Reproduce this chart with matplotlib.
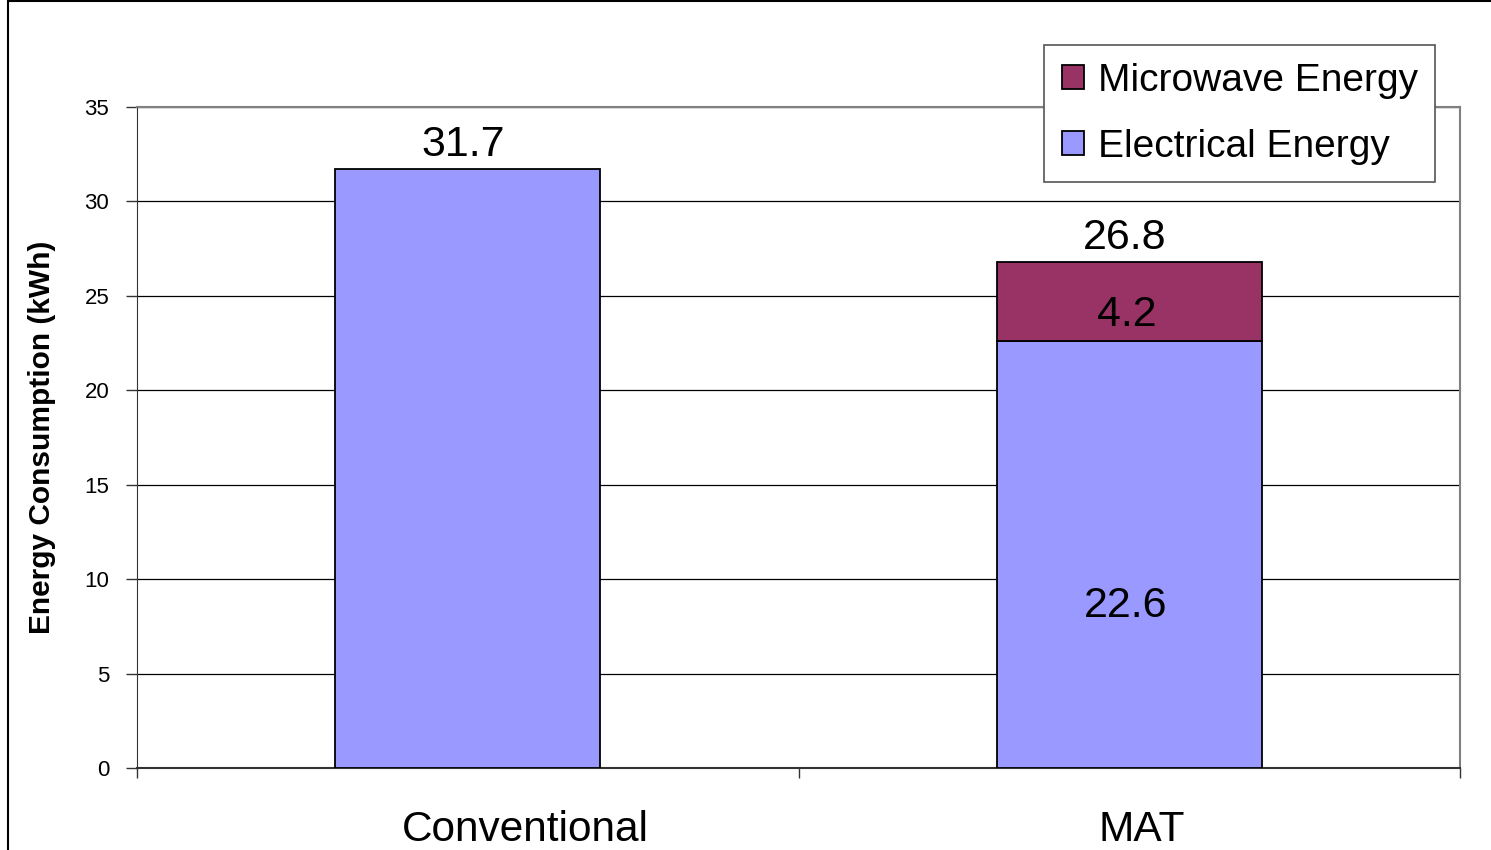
import numpy as np
import matplotlib.pyplot as plt
from matplotlib.patches import Rectangle

plt.rcParams['font.family'] = ['Liberation Sans', 'DejaVu Sans']

# %% Daten

kategorien = ['Conventional', 'MAT']
elektrisch = [31.7, 22.6]
mikrowelle = [0.0, 4.2]
summe = [31.7, 26.8]

farbe_el = '#9999FF'
farbe_mw = '#993366'

# %% Diagramm

fig = plt.figure(figsize=(14.91, 8.5), dpi=100)
ax = fig.add_axes([137/1491, 1 - 768/850, (1460-137)/1491, (768-107)/850])

x = np.arange(len(kategorien))
breite = 0.4

b_el = ax.bar(x, elektrisch, breite, color=farbe_el, edgecolor='black',
              linewidth=1.3, label='Electrical Energy', zorder=3)
mw_x = [xi for xi, v in zip(x, mikrowelle) if v > 0]
mw_v = [v for v in mikrowelle if v > 0]
mw_b = [e for e, v in zip(elektrisch, mikrowelle) if v > 0]
b_mw = ax.bar(mw_x, mw_v, breite, bottom=mw_b, color=farbe_mw,
              edgecolor='black', linewidth=1.3, label='Microwave Energy', zorder=3)

# Summen ueber den Balken
for xi, s in zip(x, summe):
    ax.annotate(f'{s:.1f}', (xi, s), xytext=(-3, 3), textcoords='offset points',
                ha='center', va='bottom', fontsize=31)

# Werte in den Segmenten (nur beim gestapelten Balken)
ax.text(x[1] - 0.005, elektrisch[1] * 0.38, f'{elektrisch[1]:.1f}',
        ha='center', va='center', fontsize=31, zorder=4)
ax.text(x[1] - 0.003, elektrisch[1] + mikrowelle[1] * 0.33, f'{mikrowelle[1]:.1f}',
        ha='center', va='center', fontsize=31, zorder=4)

ax.set_xlim(-0.5, 1.5)
ax.set_ylim(0, 35)
ax.set_yticks(np.arange(0, 36, 5))
ax.tick_params(axis='y', labelsize=16, length=8, width=1, color='#333333', pad=12)
ax.yaxis.grid(True, color='black', linewidth=0.9, zorder=0)
ax.set_axisbelow(True)

# Kategoriegrenzen als Ticks
ax.set_xticks([-0.5, 0.5, 1.5])
ax.set_xticklabels([])
ax.tick_params(axis='x', length=7, width=1, color='#333333', direction='out')

for xi, name, dx in zip(x, kategorien, [0.087, 0.019]):
    ax.text(xi + dx, -2.25, name, ha='center', va='top', fontsize=30.5)

for seite in ['top', 'right']:
    ax.spines[seite].set_color('#808080')
    ax.spines[seite].set_linewidth(1.5)
ax.spines['left'].set_color('#333333')
ax.spines['bottom'].set_color('#333333')
ax.spines['bottom'].set_linewidth(1.5)

ax.set_ylabel('Energy Consumption (kWh)', fontsize=21.5, fontweight='bold')
ax.yaxis.set_label_coords(-0.0615, 0.5)

leg = ax.legend(handles=[b_mw, b_el], loc='upper left',
                bbox_to_anchor=((1044-137)/1323, 1 + (107-45)/661),
                fontsize=28, frameon=True, fancybox=False, framealpha=1,
                edgecolor='#555555', handlelength=0.58, handleheight=0.58,
                handletextpad=0.35, labelspacing=0.78, borderpad=0.45,
                borderaxespad=0)
leg.get_frame().set_linewidth(1.2)
leg.set_zorder(10)

# Rahmen um die ganze Grafik
fig.patches.append(Rectangle((8/1491, -0.05), 1.2, 1 - 1/850 + 0.05,
                             transform=fig.transFigure, fill=False,
                             edgecolor='black', linewidth=1.5))

fig.savefig('out.png', dpi=100)
